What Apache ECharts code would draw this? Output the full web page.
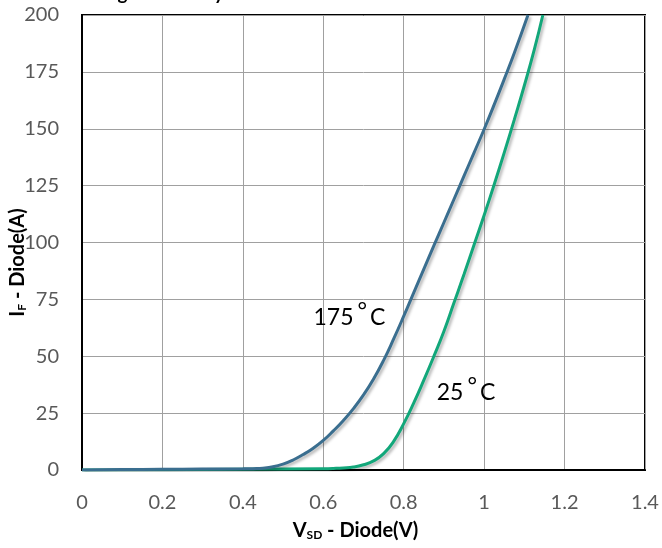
<!DOCTYPE html>
<html>
<head>
<meta charset="utf-8">
<script src="https://cdn.jsdelivr.net/npm/echarts@6/dist/echarts.min.js"></script>
<style>html,body{margin:0;padding:0;background:#fff}#c{width:662px;height:548px}</style>
</head>
<body>
<div id="c"></div>
<script>
var xTicks = [0, 0.2, 0.4, 0.6, 0.8, 1.0, 1.2, 1.4];
var yTicks = [0, 25, 50, 75, 100, 125, 150, 175, 200];
var v175 = [0, 0.1, 0.2, 0.3, 0.4, 0.425, 0.45, 0.475, 0.5, 0.525, 0.55, 0.575, 0.6, 0.625, 0.65, 0.675, 0.7, 0.725, 0.75, 0.775, 0.8, 0.825, 0.85, 0.875, 0.9, 0.925, 0.95, 0.975, 1.0, 1.025, 1.05, 1.075, 1.109];
var i175 = [0, 0.2, 0.3, 0.4, 0.5, 0.6, 0.8, 1.4, 2.6, 4.4, 6.8, 9.6, 13, 17.2, 21.8, 27, 33, 40, 48.2, 57.6, 67.6, 78, 88.3, 98.6, 108.8, 119, 129.3, 139.5, 149.8, 160.6, 171.8, 183.3, 200];
var v25 = [0, 0.2, 0.4, 0.6, 0.625, 0.65, 0.675, 0.7, 0.725, 0.75, 0.775, 0.8, 0.825, 0.85, 0.875, 0.9, 0.925, 0.95, 0.975, 1.0, 1.025, 1.05, 1.075, 1.1, 1.125, 1.146];
var i25 = [0, 0.1, 0.3, 0.6, 0.7, 0.9, 1.3, 2.3, 4.0, 7.2, 12.6, 20.4, 29.5, 39.5, 50, 61, 73.5, 86, 99, 112, 125.5, 139.5, 154, 169, 185, 200];
var seriesNames = ['175', '25'];
var labelText = ['175', '25'];
var titleText = 'Figure 8. Body Diode Forward Characteristics';

function pairs(xs, ys) { return xs.map(function (x, k) { return [x, ys[k]]; }); }

var FONT = 'Lato';
var chart = echarts.init(document.getElementById('c'), null, { renderer: 'canvas' });
var lblRich = {
  n: { fontSize: 23, fontFamily: FONT, color: '#000' },
  d: { fontSize: 23, fontFamily: FONT, color: '#000', padding: [0, 3, 12, 4] }
};
var nameRich = {
  b: { fontFamily: FONT, fontWeight: 'bold', fontSize: 20, color: '#000' },
  s: { fontFamily: FONT, fontWeight: 'bold', fontSize: 12, color: '#000', padding: [9, 0, 0, 0] }
};
var shadow = { shadowColor: 'rgba(0,0,0,0.3)', shadowBlur: 3, shadowOffsetX: 2, shadowOffsetY: 2 };
chart.setOption({
  animation: false,
  title: {
    text: titleText, left: 97, top: -21,
    textStyle: { fontFamily: FONT, fontWeight: 'bold', fontSize: 19, color: '#000' }
  },
  grid: { left: 82, right: 17, top: 15, bottom: 78, show: true, borderColor: '#000', borderWidth: 2, containLabel: false, outerBoundsMode: 'none' },
  xAxis: {
    type: 'value', min: xTicks[0], max: xTicks[xTicks.length - 1], interval: 0.2,
    name: '{b|V}{s|SD}{b| - Diode(V)}', nameLocation: 'middle', nameGap: 50, nameMoveOverlap: false,
    nameTextStyle: { rich: nameRich, padding: [0, 16, 0, 0] },
    axisLine: { lineStyle: { color: '#000', width: 2 } },
    axisTick: { show: false },
    axisLabel: { fontFamily: FONT, fontSize: 20, color: '#595959', margin: 23 },
    splitLine: { lineStyle: { color: '#a0a0a0', width: 1 } }
  },
  yAxis: {
    type: 'value', min: yTicks[0], max: yTicks[yTicks.length - 1], interval: 25,
    name: '{b|I}{s|F}{b| - Diode(A)}', nameLocation: 'middle', nameGap: 54, nameRotate: 90, nameMoveOverlap: false,
    nameTextStyle: { rich: nameRich, padding: [0, 40, 0, 0] },
    axisLine: { lineStyle: { color: '#000', width: 2 } },
    axisTick: { show: false },
    axisLabel: { fontFamily: FONT, fontSize: 20, color: '#595959', margin: 23 },
    splitLine: { lineStyle: { color: '#a0a0a0', width: 1 } }
  },
  series: [
    {
      name: seriesNames[0], type: 'line', data: pairs(v175, i175), smooth: 0.5, showSymbol: false, z: 3,
      lineStyle: Object.assign({ color: '#3a6e8f', width: 3 }, shadow),
      itemStyle: { color: '#3a6e8f' },
      markPoint: {
        symbol: 'circle', symbolSize: 0, silent: true,
        label: { show: true, formatter: '{n|' + labelText[0] + '}{d|°}{n|C}', rich: lblRich, position: 'inside' },
        data: [{ coord: [0.665, 67] }]
      }
    },
    {
      name: seriesNames[1], type: 'line', data: pairs(v25, i25), smooth: 0.5, showSymbol: false, z: 2,
      lineStyle: Object.assign({ color: '#12a77a', width: 3 }, shadow),
      itemStyle: { color: '#12a77a' },
      markPoint: {
        symbol: 'circle', symbolSize: 0, silent: true,
        label: { show: true, formatter: '{n|' + labelText[1] + '}{d|°}{n|C}', rich: lblRich, position: 'inside' },
        data: [{ coord: [0.955, 34] }]
      }
    }
  ]
});
</script>
</body>
</html>
